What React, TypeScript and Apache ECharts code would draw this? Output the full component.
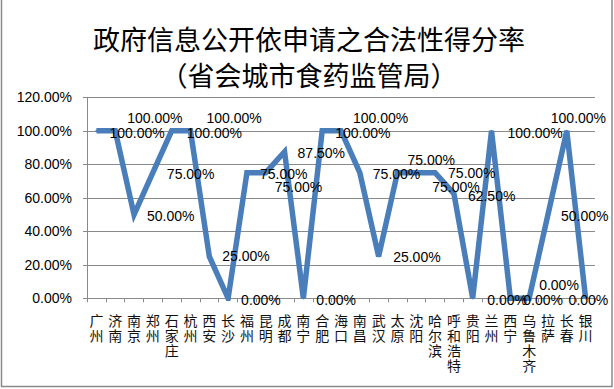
import React, { useEffect, useRef } from "react";
import * as echarts from "echarts";

const titleLine1 = "政府信息公开依申请之合法性得分率";
const titleLine2 = "（省会城市食药监管局）";

const categories = [
  "广州", "济南", "南京", "郑州", "石家庄", "杭州", "西安", "长沙", "福州",
  "昆明", "成都", "南宁", "合肥", "海口", "南昌", "武汉", "太原", "沈阳",
  "哈尔滨", "呼和浩特", "贵阳", "兰州", "西宁", "乌鲁木齐", "拉萨", "长春", "银川",
];

const scores = [
  100, 100, 50, 75, 100, 100, 25, 0, 75,
  75, 87.5, 0, 100, 100, 75, 25, 75, 75,
  75, 62.5, 0, 100, 0, 0, 50, 100, 0,
];

// per-point label offsets [dx, dy] (label placement tweaks, as in the reference)
const labelOffsets: [number, number][] = [
  [0, 2], [-1, -13], [0, 1], [1, 1], [2, 2], [3, -13], [0, 0], [0, 2], [0, 1],
  [-4, 14], [0, 1], [0, 2], [0, 2], [-1, -13], [0, 1], [1.5, 1], [-3, -13], [3, 14],
  [0, 0], [1, 2], [1.5, 2], [3, 2], [0, 2], [-3, -13], [0, 1], [-29, -13], [-30, 2],
];

const yTicks = [0, 20, 40, 60, 80, 100, 120];

export default function App() {
  const ref = useRef<HTMLDivElement>(null);

  useEffect(() => {
    if (!ref.current) return;
    const chart = echarts.init(ref.current, undefined, { renderer: "svg" });
    const gray = "#8a8a8a";
    chart.setOption({
      animation: false,
      backgroundColor: "#ffffff",
      textStyle: { color: "#000000" },
      grid: { left: 87, right: 19, top: 97.3, bottom: 90.7, containLabel: false },
      graphic: [
        {
          type: "text",
          x: 309,
          y: 38,
          style: {
            text: titleLine1,
            fontSize: 27,
            fontFamily: "Noto Sans CJK SC",
            fill: "#000",
            textAlign: "center",
            textVerticalAlign: "middle",
          },
        },
        {
          type: "text",
          x: 309,
          y: 74,
          style: {
            text: titleLine2,
            fontSize: 27,
            fontFamily: "Noto Sans CJK SC",
            fill: "#000",
            textAlign: "center",
            textVerticalAlign: "middle",
          },
        },
        {
          type: "polyline",
          shape: { points: [[1.5, 0], [1.5, 386.5], [612, 386.5], [612, 0]] },
          style: { stroke: gray, lineWidth: 1.5, fill: "none" },
        },
      ],
      xAxis: {
        type: "category",
        data: categories,
        boundaryGap: true,
        axisLine: { show: true, lineStyle: { color: gray, width: 1 } },
        axisTick: { show: true, inside: false, length: 4, interval: 0, lineStyle: { color: gray } },
        axisLabel: {
          interval: 0,
          margin: 14,
          fontSize: 14,
          lineHeight: 15,
          color: "#000000",
          fontFamily: "Noto Sans CJK SC",
          verticalAlign: "top",
          formatter: (v: string) => "{c|" + v.split("").join("\n") + "}",
          rich: {
            c: {
              color: "#111111",
              fontSize: 14,
              lineHeight: 15,
              fontFamily: "Noto Sans CJK SC",
            },
          },
        },
        splitLine: { show: false },
      },
      yAxis: {
        type: "value",
        min: 0,
        max: 120,
        interval: 20,
        axisLine: { show: true, lineStyle: { color: gray, width: 1 } },
        axisTick: { show: true, length: 4, lineStyle: { color: gray } },
        axisLabel: {
          margin: 15,
          fontSize: 14,
          color: "#000000",
          fontFamily: "Liberation Sans",
          formatter: (v: number) => (yTicks.includes(v) ? v.toFixed(2) + "%" : ""),
        },
        splitLine: { show: true, lineStyle: { color: gray, width: 1 } },
      },
      series: [
        {
          type: "line",
          data: scores,
          showSymbol: true,
          symbol: "circle",
          symbolSize: 2,
          itemStyle: { color: "#4A7EBB" },
          lineStyle: { color: "#4A7EBB", width: 5.5, join: "miter" },
          label: {
            show: true,
            position: "right",
            distance: 12,
            fontSize: 14,
            fontFamily: "Liberation Sans",
            color: "#000000",
            formatter: (p: any) => Number(p.value).toFixed(2) + "%",
          },
          labelLayout: (params: any) => {
            const o = labelOffsets[params.dataIndex] || [0, 0];
            return { dx: o[0], dy: o[1], hideOverlap: false };
          },
        },
      ],
    });
    return () => chart.dispose();
  }, []);

  return (
    <div
      ref={ref}
      style={{ position: "fixed", left: 0, top: 0, width: 614, height: 389, background: "#fff" }}
    />
  );
}
